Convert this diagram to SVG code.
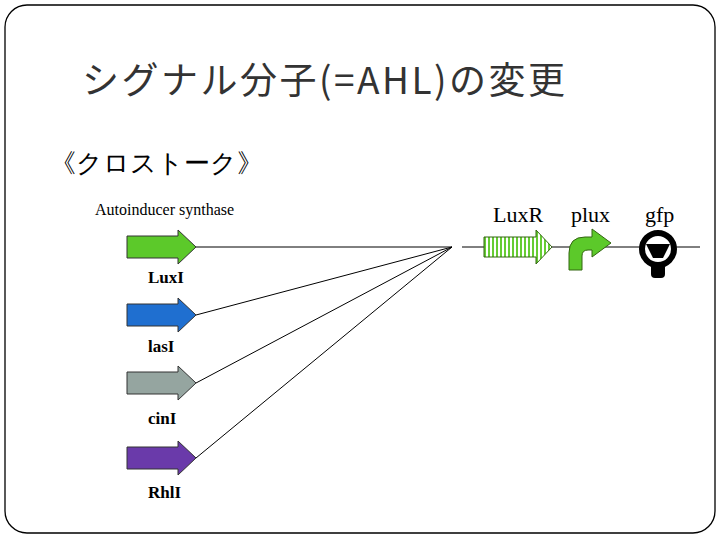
<svg xmlns="http://www.w3.org/2000/svg" width="720" height="540" viewBox="0 0 720 540">
<defs>
<pattern id="str" width="4" height="4" patternUnits="userSpaceOnUse"><rect width="4" height="4" fill="#fff"/><rect width="2" height="4" fill="#66cc33"/></pattern>
<path id="arr" d="M0,-11 H51 V-17 L69,0 L51,17 V11 H0 Z"/>
</defs>
<style>
.t{font-family:"Liberation Serif",serif;fill:#000}
.a{stroke:#333;stroke-width:1}
.c{stroke:#000;stroke-width:1;fill:none}
</style>
<rect x="5" y="5" width="710" height="528" rx="22" fill="#fff" stroke="#000" stroke-width="1.3"/>
<text x="82" y="94" font-family="'Noto Sans CJK JP',sans-serif" font-size="37" fill="#333" textLength="483" lengthAdjust="spacing">シグナル分子(=AHL)の変更</text>
<text x="50" y="172" class="t" font-size="26" font-family="'Noto Serif CJK JP','Noto Sans CJK JP',serif">《クロストーク》</text>
<text x="95" y="215" class="t" font-size="16">Autoinducer synthase</text>
<g id="connectors">
<line class="c" x1="196" y1="247" x2="452" y2="247"/>
<line class="c" x1="196" y1="315" x2="452" y2="247"/>
<line class="c" x1="196" y1="383" x2="452" y2="247"/>
<line class="c" x1="196" y1="458" x2="452" y2="247"/>
<line class="c" x1="462" y1="247" x2="700" y2="247"/>
</g>
<g id="luxI"><use href="#arr" x="127" y="247" fill="#5cc92a" class="a"/><text x="148" y="283" class="t" font-size="17" font-weight="bold">LuxI</text></g>
<g id="lasI"><use href="#arr" x="127" y="315" fill="#1f6fd0" class="a"/><text x="148" y="352" class="t" font-size="17" font-weight="bold">lasI</text></g>
<g id="cinI"><use href="#arr" x="127" y="383" fill="#95a5a0" class="a"/><text x="148" y="424" class="t" font-size="17" font-weight="bold">cinI</text></g>
<g id="rhlI"><use href="#arr" x="127" y="458" fill="#6a3aaa" class="a"/><text x="148" y="498" class="t" font-size="17" font-weight="bold">RhlI</text></g>
<g id="luxR"><path d="M484,237 H536 V230 L552,247 L536,264 V257 H484 Z" fill="url(#str)" stroke="#336611"/><text x="493" y="222" class="t" font-size="22">LuxR</text></g>
<g id="plux"><path d="M569,270 V253 Q569,237 585,237 H592 V229 L611,243 L592,257 V250 H588 Q582,250 582,256 V270 Z" fill="#5cc92a" stroke="#336611"/><text x="571" y="222" class="t" font-size="22">plux</text></g>
<g id="gfp"><circle cx="658" cy="249" r="16" fill="#fff" stroke="#000" stroke-width="6"/><path d="M646,244 L670,244 L663,258 L653,258 Z" fill="#000"/><rect x="651" y="262" width="14" height="16" rx="4" fill="#000"/><text x="645" y="222" class="t" font-size="22">gfp</text></g>
</svg>
